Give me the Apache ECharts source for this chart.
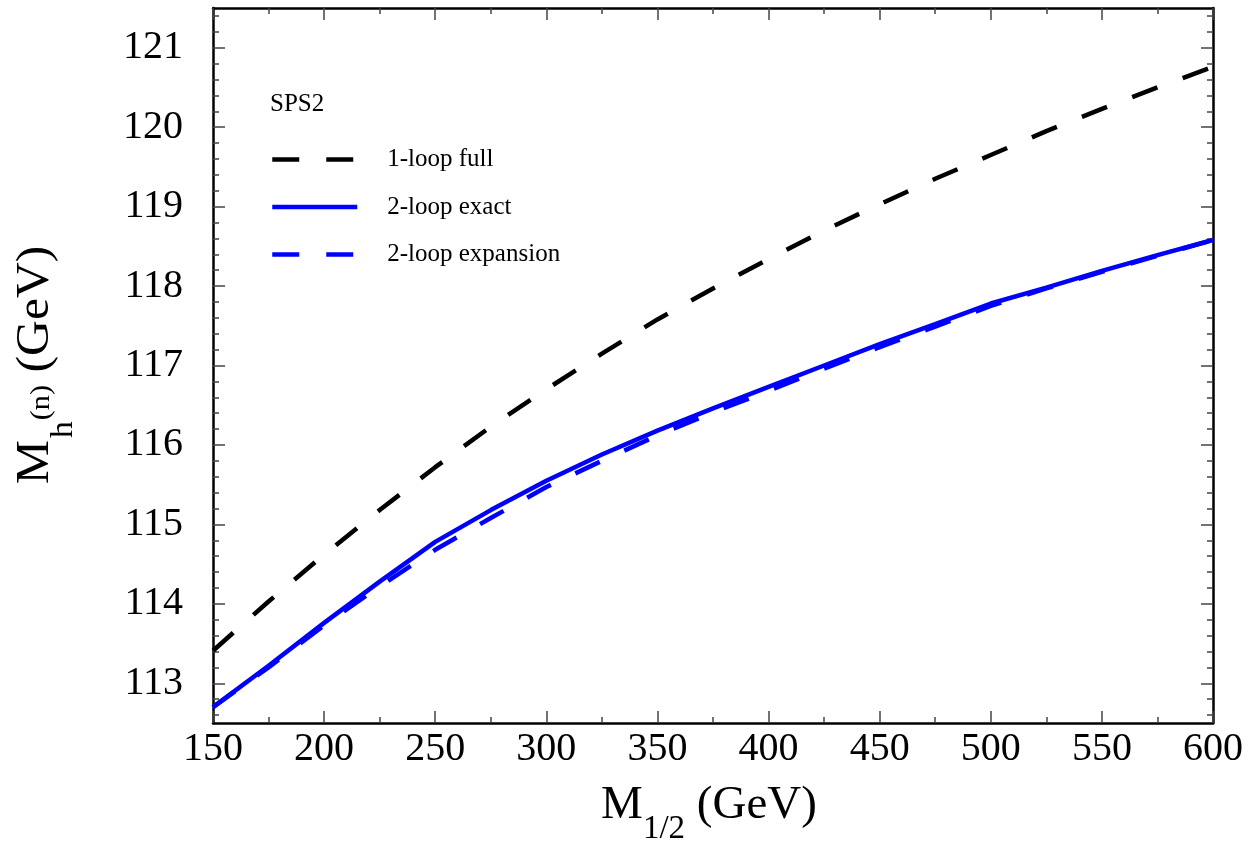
<!DOCTYPE html>
<html lang="en">
<head>
    <meta charset="UTF-8">
    <title>SPS2 Mh vs M1/2</title>
    <script src="https://cdn.jsdelivr.net/npm/echarts@6/dist/echarts.min.js"></script>
    <style type="text/css">
        html, body { height: 100%; margin: 0; background: #fff; }
        #main { width: 1249px; height: 842px; }
    </style>
</head>
<body>
    <div id="main"></div>
    <script type="text/javascript">
        // M_1/2 (GeV) sample points
        var m12 = [150, 175, 200, 225, 250, 275, 300, 325, 350, 375, 400, 425, 450, 475, 500, 525, 550, 575, 600];
        // M_h (GeV)
        var oneLoopFull = [113.41, 114.03, 114.62, 115.18, 115.72, 116.23, 116.70, 117.15, 117.58, 117.97, 118.34, 118.70, 119.03, 119.35, 119.65, 119.95, 120.23, 120.50, 120.76];
        var twoLoopExact = [112.70, 113.22, 113.76, 114.28, 114.78, 115.18, 115.55, 115.88, 116.18, 116.46, 116.73, 117.00, 117.27, 117.52, 117.78, 117.98, 118.19, 118.39, 118.58];
        var twoLoopExpansion = [112.70, 113.20, 113.73, 114.22, 114.68, 115.08, 115.47, 115.80, 116.12, 116.41, 116.68, 116.96, 117.23, 117.49, 117.75, 117.97, 118.18, 118.38, 118.58];
        var seriesNames = ['1-loop full', '2-loop exact', '2-loop expansion'];
        // tick labels
        var yTicks = [113, 114, 115, 116, 117, 118, 119, 120, 121];
        var yMinorTicks = [];
        for (var k = 1126; k <= 1214; k += 2) yMinorTicks.push(k / 10);

        var serif = 'Liberation Serif, Times New Roman, serif';

        function pairs(ys) {
            return m12.map(function (x, i) { return [x, ys[i]]; });
        }

        var chart = echarts.init(document.getElementById('main'));

        var frameLine = { show: true, onZero: false, lineStyle: { color: '#000', width: 2.5 } };
        var tickStyle = { color: '#444', width: 1.5 };

        function xAxisDef(pos, showLabel) {
            return {
                type: 'value', position: pos, min: 150, max: 600, interval: 50,
                axisLine: frameLine,
                axisTick: { show: true, inside: true, length: 12, lineStyle: tickStyle },
                minorTick: { show: true, splitNumber: 2, length: 6, lineStyle: tickStyle },
                axisLabel: { show: showLabel, fontFamily: serif, fontSize: 40, color: '#000', margin: 6 },
                splitLine: { show: false }
            };
        }
        function yAxisDef(pos, major, showLabel) {
            return {
                type: 'value', position: pos, min: 112.5, max: 121.5,
                axisLine: major ? frameLine : { show: false, onZero: false },
                axisTick: { show: true, inside: true, length: major ? 12 : 6,
                    customValues: major ? yTicks : yMinorTicks, lineStyle: tickStyle },
                axisLabel: { show: showLabel, customValues: yTicks, fontFamily: serif,
                    fontSize: 40, color: '#000', margin: 30 },
                splitLine: { show: false }
            };
        }

        var option = {
            animation: false,
            backgroundColor: '#fff',
            grid: { left: 213, top: 8, right: 36, bottom: 119 },
            xAxis: [xAxisDef('bottom', true), xAxisDef('top', false)],
            yAxis: [
                yAxisDef('left', true, true),
                yAxisDef('left', false, false),
                yAxisDef('right', true, false),
                yAxisDef('right', false, false)
            ],
            legend: {
                orient: 'vertical', left: 270, top: 147, padding: 0,
                itemWidth: 85, itemHeight: 14, itemGap: 22.5,
                itemStyle: { opacity: 0, borderWidth: 0 },
                lineStyle: { width: 4.5 },
                textStyle: { fontFamily: serif, fontSize: 25, color: '#000', padding: [0, 0, 0, 25] },
                data: seriesNames
            },
            graphic: [
                { type: 'text', left: 270, top: 92,
                  style: { text: 'SPS2', font: '25px ' + serif, fill: '#000' } },
                { type: 'text', x: 709, y: 806,
                  style: {
                      text: '{m|M}{s|1/2}{m| (GeV)}', align: 'center', verticalAlign: 'middle',
                      rich: {
                          m: { fontFamily: serif, fontSize: 47, lineHeight: 70, fill: '#000' },
                          s: { fontFamily: serif, fontSize: 33, lineHeight: 10, verticalAlign: 'top',
                               padding: [42, 0, 0, 0], fill: '#000' }
                      }
                  } },
                { type: 'text', x: 36, y: 365, rotation: Math.PI / 2, scaleX: 1.08,
                  style: {
                      text: '{m|M}{s|h}{p|(n)}{m| (GeV)}', align: 'center', verticalAlign: 'middle',
                      rich: {
                          m: { fontFamily: serif, fontSize: 46, lineHeight: 70, fill: '#000' },
                          s: { fontFamily: serif, fontSize: 31, lineHeight: 10, verticalAlign: 'top',
                               padding: [47, 1, 0, 2], fill: '#000' },
                          p: { fontFamily: serif, fontSize: 28, lineHeight: 10, verticalAlign: 'top',
                               padding: [27, 0, 0, 0], fill: '#000' }
                      }
                  } }
            ],
            series: [
                { name: seriesNames[0], type: 'line', data: pairs(oneLoopFull), symbol: 'none',
                  lineStyle: { color: '#000', width: 4.5, type: [27, 27] }, itemStyle: { color: '#000' } },
                { name: seriesNames[1], type: 'line', data: pairs(twoLoopExact), symbol: 'none',
                  lineStyle: { color: '#0000ff', width: 4.5 }, itemStyle: { color: '#0000ff' } },
                { name: seriesNames[2], type: 'line', data: pairs(twoLoopExpansion), symbol: 'none',
                  lineStyle: { color: '#0000ff', width: 4.5, type: [27, 27] }, itemStyle: { color: '#0000ff' } }
            ]
        };
        chart.setOption(option);
    </script>
</body>
</html>
